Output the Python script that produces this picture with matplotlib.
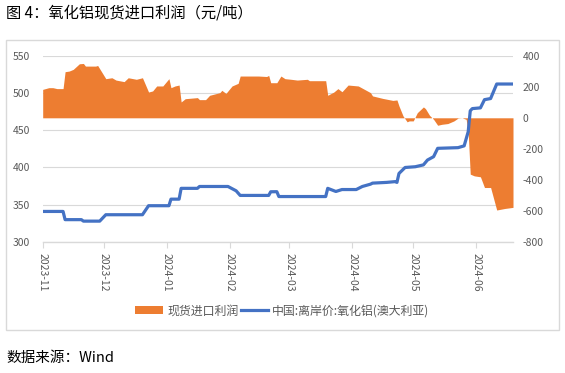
import matplotlib
matplotlib.use("Agg")
import matplotlib.pyplot as plt
import matplotlib.dates as mdates
from matplotlib.patches import Patch, Rectangle
from matplotlib.lines import Line2D
import pandas as pd

plt.rcParams['font.family'] = ['Noto Sans CJK SC', 'DejaVu Sans']
plt.rcParams['axes.unicode_minus'] = False

# 现货进口利润 (right axis, 元/吨)
profit_dates = [
    "2023-11-01", "2023-11-04", "2023-11-06", "2023-11-08", "2023-11-11", "2023-11-12",
    "2023-11-14", "2023-11-16", "2023-11-19", "2023-11-21", "2023-11-22", "2023-11-27",
    "2023-11-28", "2023-12-02", "2023-12-05", "2023-12-07", "2023-12-11", "2023-12-13",
    "2023-12-17", "2023-12-20", "2023-12-23", "2023-12-25", "2023-12-27", "2023-12-30",
    "2024-01-02", "2024-01-03", "2024-01-05", "2024-01-07", "2024-01-08", "2024-01-10",
    "2024-01-16", "2024-01-17", "2024-01-20", "2024-01-22", "2024-01-27", "2024-01-28",
    "2024-01-30", "2024-02-02", "2024-02-05", "2024-02-06", "2024-02-15", "2024-02-19",
    "2024-02-20", "2024-02-21", "2024-02-24", "2024-02-26", "2024-02-28", "2024-03-02",
    "2024-03-05", "2024-03-10", "2024-03-11", "2024-03-19", "2024-03-20", "2024-03-23",
    "2024-03-25", "2024-03-27", "2024-03-30", "2024-04-04", "2024-04-10", "2024-04-11",
    "2024-04-16", "2024-04-21", "2024-04-23", "2024-04-24", "2024-04-26", "2024-04-28",
    "2024-04-29", "2024-05-01", "2024-05-03", "2024-05-06", "2024-05-07", "2024-05-09",
    "2024-05-11", "2024-05-13", "2024-05-15", "2024-05-18", "2024-05-21", "2024-05-23",
    "2024-05-25", "2024-05-27", "2024-05-28", "2024-05-29", "2024-05-31", "2024-06-03",
    "2024-06-05", "2024-06-08", "2024-06-11", "2024-06-15", "2024-06-19",
]
profit_values = [
    183, 194, 194, 188, 188, 297,
    301, 312, 348, 350, 333, 333,
    337, 252, 258, 243, 233, 258,
    248, 258, 166, 173, 205, 205,
    252, 194, 205, 211, 102, 123,
    130, 117, 117, 145, 162, 177,
    157, 205, 222, 269, 269, 266,
    273, 226, 226, 269, 252, 248,
    243, 248, 239, 239, 145, 166,
    188, 168, 211, 205, 162, 141,
    125, 112, 115, 76, 12, -26,
    -20, -20, 33, 70, 59, 16,
    -10, -48, -42, -37, -20, -2,
    0, -10, -95, -363, -374, -380,
    -449, -449, -594, -584, -577,
]

# 中国:离岸价:氧化铝(澳大利亚) (left axis)
price_dates = [
    "2023-11-01", "2023-11-11", "2023-11-12", "2023-11-20", "2023-11-21", "2023-11-29",
    "2023-12-02", "2023-12-20", "2023-12-23", "2024-01-02", "2024-01-03", "2024-01-07",
    "2024-01-08", "2024-01-16", "2024-01-17", "2024-01-31", "2024-02-04", "2024-02-06",
    "2024-02-20", "2024-02-21", "2024-02-24", "2024-02-25", "2024-03-19", "2024-03-20",
    "2024-03-24", "2024-03-27", "2024-04-03", "2024-04-06", "2024-04-10", "2024-04-11",
    "2024-04-18", "2024-04-22", "2024-04-23", "2024-04-24", "2024-04-27", "2024-05-02",
    "2024-05-06", "2024-05-08", "2024-05-11", "2024-05-13", "2024-05-23", "2024-05-26",
    "2024-05-28", "2024-05-29", "2024-05-30", "2024-06-03", "2024-06-05", "2024-06-08",
    "2024-06-11", "2024-06-19",
]
price_values = [
    341, 341, 330, 330, 328, 328,
    336.6, 336.6, 348.7, 348.7, 357.5, 357.5,
    372, 372, 374.5, 374.5, 368.7, 362.5,
    362.5, 367.4, 367.5, 361, 361, 372,
    367.8, 370.4, 370.4, 374.5, 377.6, 379,
    380, 381, 380, 392, 400, 401,
    403.5, 410, 414.5, 425.7, 426.6, 429,
    448, 476, 479, 480, 491, 492.5,
    512, 512,
]

left_ticks = [300, 350, 400, 450, 500, 550]
right_ticks = [-800, -600, -400, -200, 0, 200, 400]

title_text = "图 4：氧化铝现货进口利润（元/吨）"
source_text = "数据来源：Wind"
legend_labels = ["现货进口利润", "中国:离岸价:氧化铝(澳大利亚)"]

orange = "#ED7D31"
blue = "#4472C4"
grid_c = "#D9D9D9"
text_c = "#595959"

pdates = pd.to_datetime(profit_dates)
qdates = pd.to_datetime(price_dates)

W, H = 565, 373
fig = plt.figure(figsize=(W / 100, H / 100), dpi=100)

L, R, T, B = 42.7, 513, 55.7, 242
ax1 = fig.add_axes([L / W, 1 - B / H, (R - L) / W, (B - T) / H])
ax2 = ax1.twinx()
ax3 = ax1.twinx()

# left axis: grid and labels
ax1.set_ylim(left_ticks[0], left_ticks[-1])
ax1.set_yticks(left_ticks)
ax1.grid(axis='y', color=grid_c, lw=0.8)
ax1.set_axisbelow(True)
ax1.tick_params(axis='y', length=0, pad=9, labelsize=7.5, labelcolor=text_c)

# right axis: area
ax2.fill_between(pdates, 0, profit_values, color=orange, lw=0, zorder=2)
ax2.set_ylim(right_ticks[0], right_ticks[-1])
ax2.set_yticks(right_ticks)
ax2.tick_params(axis='y', length=0, pad=7, labelsize=7.5, labelcolor=text_c)

# line on top, left scale
ax3.plot(qdates, price_values, color=blue, lw=2.3, solid_joinstyle='round', zorder=3)
ax3.set_ylim(left_ticks[0], left_ticks[-1])
ax3.yaxis.set_visible(False)

xmin = pd.Timestamp(profit_dates[0])
xmax = pd.Timestamp(profit_dates[-1])
for a in (ax1, ax2, ax3):
    a.set_xlim(xmin, xmax)
    for s in ('top', 'left', 'right', 'bottom'):
        a.spines[s].set_visible(False)
ax1.spines['bottom'].set_visible(True)
ax1.spines['bottom'].set_color(grid_c)
ax1.spines['bottom'].set_linewidth(1.0)

ax1.xaxis.set_major_locator(mdates.MonthLocator())
ax1.xaxis.set_major_formatter(mdates.DateFormatter('%Y-%m'))
ax1.tick_params(axis='x', length=4, color=grid_c, pad=4, labelsize=7.5,
                labelcolor=text_c, labelrotation=-90)
for lab in ax1.get_xticklabels():
    lab.set_va('top')
    lab.set_ha('center')

# legend
handles = [Patch(facecolor=orange, edgecolor='none'),
           Line2D([0], [0], color=blue, lw=2.3)]
fig.legend(handles, legend_labels, loc='center', bbox_to_anchor=(0.5, 1 - 311 / H),
           ncol=2, frameon=False, fontsize=8.6, handlelength=2.3, handleheight=0.6,
           handletextpad=0.35, columnspacing=0.2, labelcolor=text_c)

# outer frame
fig.patches.append(Rectangle((6.3 / W, 1 - 330.3 / H), (559.3 - 6.3) / W, (330.3 - 40) / H,
                             transform=fig.transFigure, fill=False, edgecolor=grid_c, lw=1.0))

fig.text(6 / W, 1 - 13.5 / H, title_text, fontsize=11, va='center', ha='left', color='black')
fig.text(6 / W, 1 - 358 / H, source_text, fontsize=10.5, va='center', ha='left', color='black')

fig.savefig("out.png", dpi=100)
